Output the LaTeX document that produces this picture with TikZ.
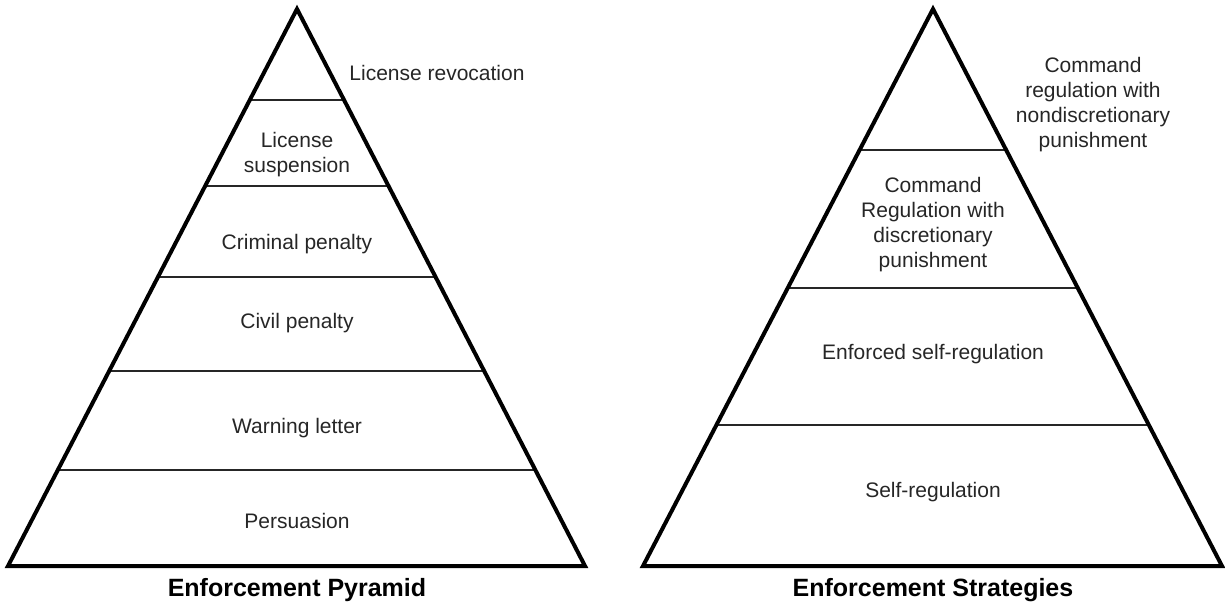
\documentclass[tikz,border=0pt]{standalone}
\usepackage{fontspec}
\setmainfont{Liberation Sans}
\usetikzlibrary{calc}
\tikzset{
  outer/.style={draw=black, line width=4pt, line join=miter},
  band/.style={draw=black!85, line width=1.8pt},
  lbl/.style={font=\fontsize{21}{25}\selectfont, text=black!85, align=center, inner sep=0pt},
  ttl/.style={font=\fontsize{25}{30}\selectfont\bfseries, text=black, inner sep=0pt}
}
\begin{document}
\begin{tikzpicture}[x=1pt,y=-1pt]
\useasboundingbox (0,0) rectangle (1225,604);
% left pyramid
\coordinate (LA) at (297,9);
\coordinate (LL) at (8,566);
\coordinate (LR) at (585,566);
\foreach \yy/\nm in {100/l1,186/l2,277/l3,371/l4,470/l5}{
  \draw[band] ($(LA)!{(\yy-9)/557}!(LL)$) -- ($(LA)!{(\yy-9)/557}!(LR)$);
}
\draw[outer] (LA) -- (LL) -- (LR) -- cycle;
% right pyramid
\coordinate (RA) at (933,9);
\coordinate (RL) at (643,566);
\coordinate (RR) at (1222,566);
\foreach \yy in {150,288,425}{
  \draw[band] ($(RA)!{(\yy-9)/557}!(RL)$) -- ($(RA)!{(\yy-9)/557}!(RR)$);
}
\draw[outer] (RA) -- (RL) -- (RR) -- cycle;
% left labels
\node[lbl] (t1) at (437,73) {License revocation};
\node[lbl] (t2) at (297,155) {License\\suspension};
\node[lbl] (t3) at (297,244) {Criminal penalty};
\node[lbl] (t4) at (297,323) {Civil penalty};
\node[lbl] (t5) at (297,428) {Warning letter};
\node[lbl] (t6) at (297,521) {Persuasion};
\node[ttl] (tt1) at (297,590) {Enforcement Pyramid};
% right labels
\node[lbl] (r1) at (1093,105) {Command\\regulation with\\nondiscretionary\\punishment};
\node[lbl] (r2) at (933,225) {Command\\Regulation with\\discretionary\\punishment};
\node[lbl] (r3) at (933,354) {Enforced self-regulation};
\node[lbl] (r4) at (933,492) {Self-regulation};
\node[ttl] (tt2) at (933,590) {Enforcement Strategies};
\end{tikzpicture}
\end{document}
